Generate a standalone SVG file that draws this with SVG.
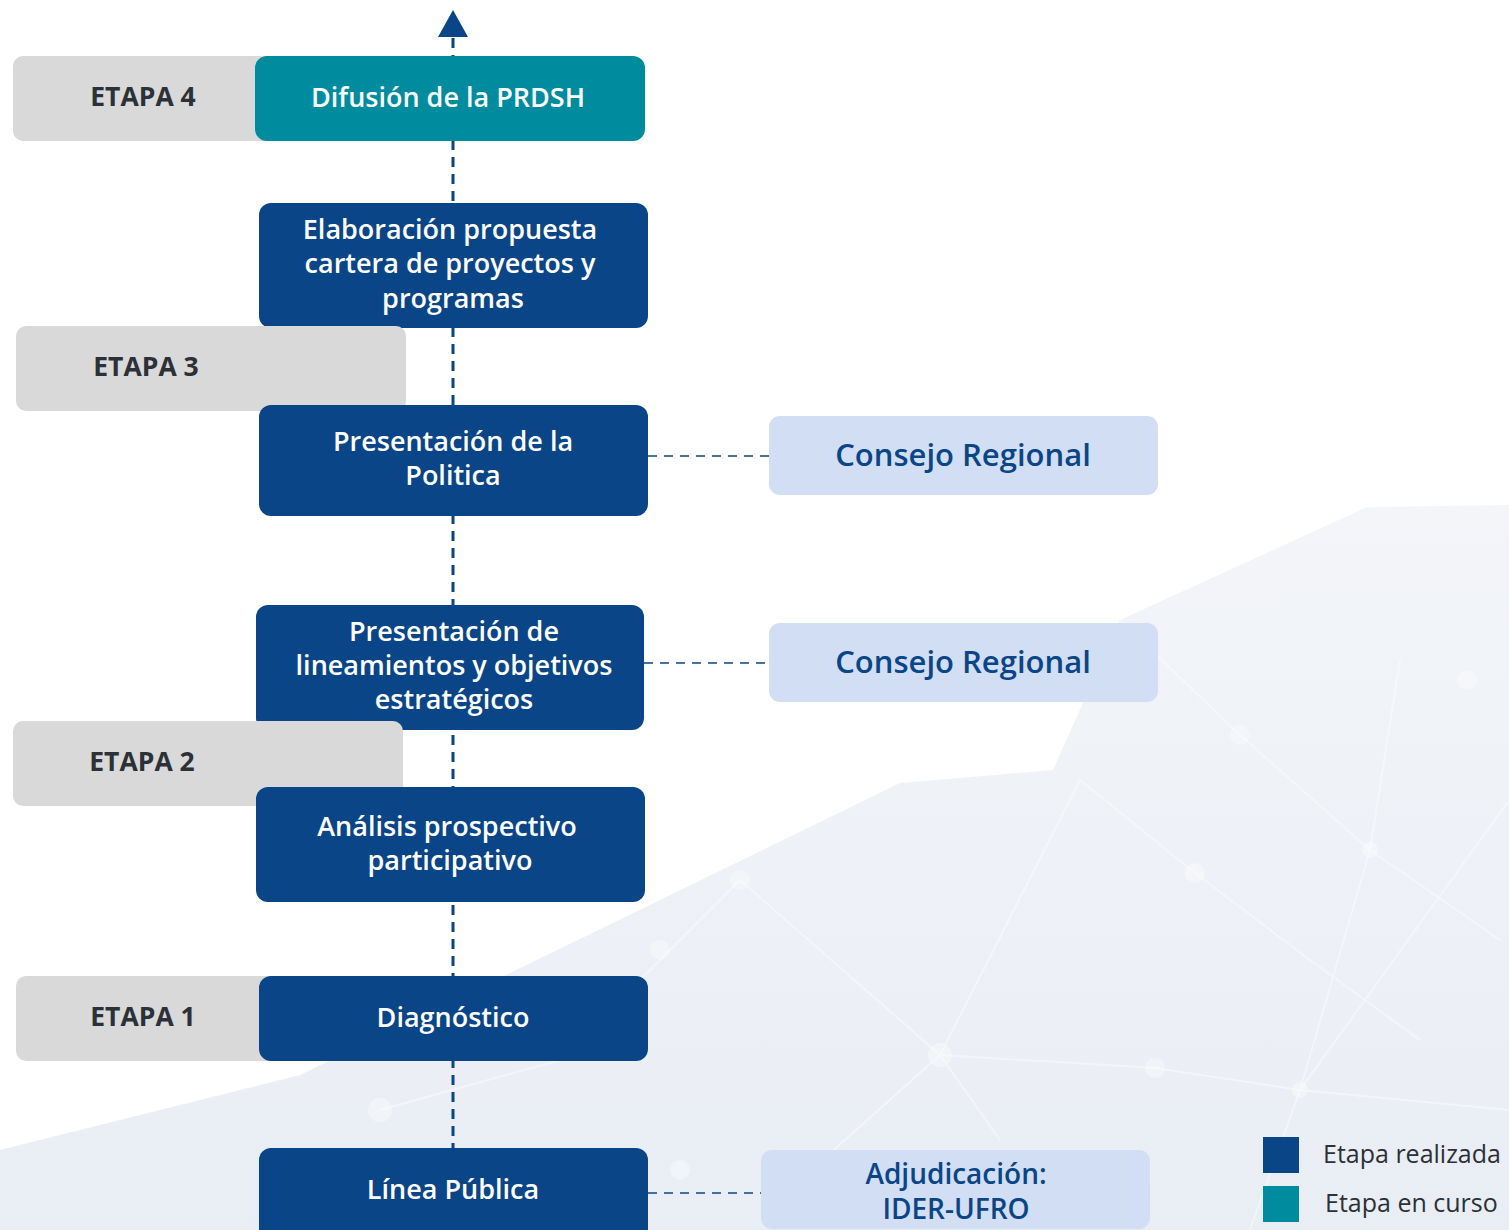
<svg xmlns="http://www.w3.org/2000/svg" width="1509" height="1230" viewBox="0 0 1509 1230">
<style>
.stage{fill:#d9d9d9}
.done{fill:#0a4587}
.cur{fill:#008c9e}
.side{fill:#d2def3}
.lbl{font-family:"Open Sans","Noto Sans",sans-serif;font-weight:600;font-size:27px;fill:#ffffff;text-anchor:middle;dominant-baseline:central}
.stg{font-family:"Open Sans","Noto Sans",sans-serif;font-weight:700;font-size:26.5px;fill:#2b3136;text-anchor:middle;dominant-baseline:central}
.sidet{font-family:"Open Sans","Noto Sans",sans-serif;font-weight:600;font-size:31px;fill:#0a4587;text-anchor:middle;dominant-baseline:central}
.leg{font-family:"Open Sans","Noto Sans",sans-serif;font-size:25px;fill:#2b3136;dominant-baseline:central}
.vdash{stroke:#0a4587;stroke-width:3;stroke-dasharray:10 7;fill:none}
.hdash{stroke:#0a4587;stroke-width:1.5;stroke-dasharray:9 7;fill:none}
.net{stroke:#ffffff;stroke-width:2;opacity:0.4;fill:none}
</style>
<defs>
<linearGradient id="bg" x1="0" y1="0" x2="0" y2="1">
<stop offset="0" stop-color="#f3f5f9"/>
<stop offset="1" stop-color="#e9edf4"/>
</linearGradient>
</defs>
<rect width="1509" height="1230" fill="#ffffff"/>
<g id="background">
<polygon points="0,1230 0,1150 300,1075 660,900 900,783 1053,770 1120,620 1367,507 1509,505 1509,1230" fill="url(#bg)"/>
<path class="net" d="M1120,620 L1240,735 L1370,850 L1500,940 M1080,780 L1195,873 L1310,960 L1420,1040 M940,1055 L1080,780 M940,1055 L1155,1068 L1300,1090 L1509,1110 M940,1055 L800,1180 M1370,850 L1300,1090 M1400,660 L1370,850 M1509,800 L1300,1090 L1250,1230 M940,1055 L1000,1140 M380,1110 L560,1060 L740,880 M740,880 L940,1055"/>
<g fill="#ffffff" opacity="0.35">
<circle cx="1240" cy="735" r="10"/><circle cx="1195" cy="873" r="10"/><circle cx="940" cy="1055" r="12"/><circle cx="1155" cy="1068" r="10"/><circle cx="1300" cy="1090" r="8"/><circle cx="1370" cy="850" r="8"/><circle cx="1467" cy="680" r="10"/><circle cx="380" cy="1110" r="12"/><circle cx="740" cy="880" r="10"/><circle cx="660" cy="950" r="10"/><circle cx="680" cy="1170" r="10"/>
</g>
</g>
<g id="connectors">
<line class="vdash" x1="453" y1="38" x2="453" y2="1148"/>
<polygon points="453,10 438,37 468,37" fill="#0a4587"/>
<line class="hdash" x1="648" y1="456" x2="769" y2="456"/>
<line class="hdash" x1="644" y1="663" x2="769" y2="663"/>
<line class="hdash" x1="648" y1="1193" x2="761" y2="1193"/>
</g>
<g id="etapa4">
<rect class="stage" x="13" y="56" width="300" height="85" rx="10"/>
<text class="stg" x="143" y="96">ETAPA 4</text>
</g>
<g id="difusion">
<rect class="cur" x="255" y="56" width="390" height="85" rx="12"/>
<text class="lbl" x="448" y="96">Difusión de la PRDSH</text>
</g>
<g id="elaboracion">
<rect class="done" x="259" y="203" width="389" height="125" rx="12"/>
<text class="lbl" x="450" y="228">Elaboración propuesta</text>
<text class="lbl" x="450" y="262">cartera de proyectos y</text>
<text class="lbl" x="453" y="297">programas</text>
</g>
<g id="etapa3">
<rect class="stage" x="16" y="326" width="390" height="85" rx="10"/>
<text class="stg" x="146" y="366">ETAPA 3</text>
</g>
<g id="presentacion-politica">
<rect class="done" x="259" y="405" width="389" height="111" rx="12"/>
<text class="lbl" x="453" y="440">Presentación de la</text>
<text class="lbl" x="453" y="474">Politica</text>
</g>
<g id="consejo1">
<rect class="side" x="769" y="416" width="389" height="79" rx="11"/>
<text class="sidet" x="963" y="454">Consejo Regional</text>
</g>
<g id="presentacion-lineamientos">
<rect class="done" x="256" y="605" width="388" height="125" rx="12"/>
<text class="lbl" x="454" y="630">Presentación de</text>
<text class="lbl" x="454" y="664">lineamientos y objetivos</text>
<text class="lbl" x="454" y="698">estratégicos</text>
</g>
<g id="consejo2">
<rect class="side" x="769" y="623" width="389" height="79" rx="11"/>
<text class="sidet" x="963" y="661">Consejo Regional</text>
</g>
<g id="etapa2">
<rect class="stage" x="13" y="721" width="390" height="85" rx="10"/>
<text class="stg" x="142" y="761">ETAPA 2</text>
</g>
<g id="analisis">
<rect class="done" x="256" y="787" width="389" height="115" rx="12"/>
<text class="lbl" x="447" y="825">Análisis prospectivo</text>
<text class="lbl" x="450" y="859">participativo</text>
</g>
<g id="etapa1">
<rect class="stage" x="16" y="976" width="300" height="85" rx="10"/>
<text class="stg" x="143" y="1016">ETAPA 1</text>
</g>
<g id="diagnostico">
<rect class="done" x="259" y="976" width="389" height="85" rx="12"/>
<text class="lbl" x="453" y="1016">Diagnóstico</text>
</g>
<g id="linea-publica">
<rect class="done" x="259" y="1148" width="389" height="95" rx="12"/>
<text class="lbl" x="453" y="1188">Línea Pública</text>
</g>
<g id="adjudicacion">
<rect class="side" x="761" y="1150" width="389" height="79" rx="11"/>
<text class="sidet" x="956" y="1173" style="font-size:28px">Adjudicación:</text>
<text class="sidet" x="956" y="1208" style="font-size:28px">IDER-UFRO</text>
</g>
<g id="legend">
<rect class="done" x="1263" y="1137" width="36" height="36"/>
<text class="leg" x="1323" y="1153">Etapa realizada</text>
<rect class="cur" x="1263" y="1186" width="36" height="36"/>
<text class="leg" x="1325" y="1202">Etapa en curso</text>
</g>
</svg>
